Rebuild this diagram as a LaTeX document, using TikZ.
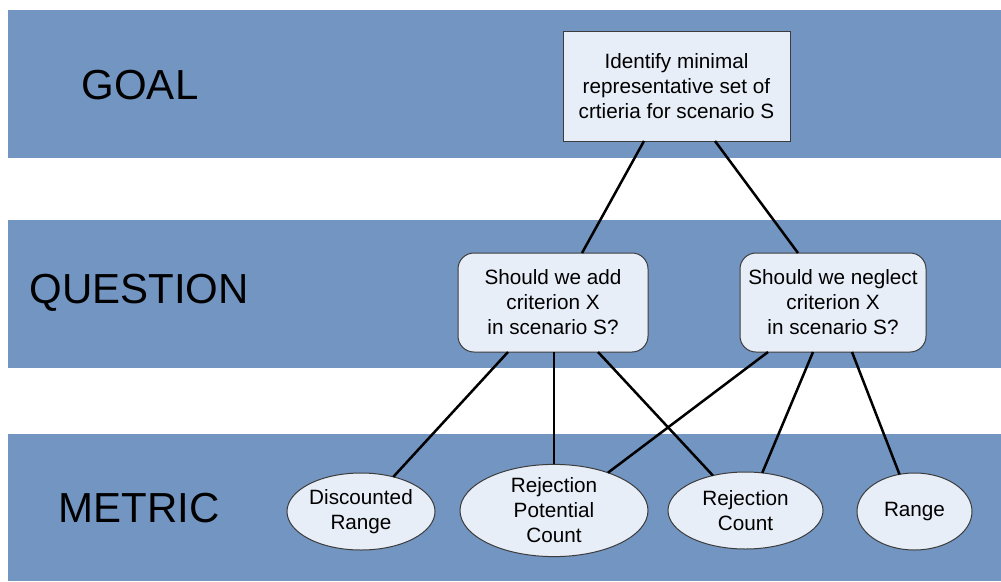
\documentclass[tikz,border=0pt]{standalone}
\usepackage{fontspec}
\setmainfont{Liberation Sans}
\usetikzlibrary{shapes.geometric}
\definecolor{bandblue}{RGB}{114,149,193}
\definecolor{boxfill}{RGB}{232,238,247}
\definecolor{boxline}{RGB}{60,60,60}
\tikzset{
  band/.style={fill=bandblue, draw=none},
  levellabel/.style={font=\fontsize{42}{48}\selectfont, inner sep=0pt},
  goalbox/.style={rectangle, draw=boxline, line width=1pt, fill=boxfill, inner sep=0pt, outer sep=0pt,
    align=center, font=\fontsize{20.7}{25}\selectfont},
  questionbox/.style={goalbox, rounded corners=16pt},
  metricnode/.style={ellipse, draw=boxline, line width=1pt, fill=boxfill, inner sep=0pt, outer sep=0pt,
    align=center, font=\fontsize{20.7}{25}\selectfont},
  link/.style={line width=2.5pt, black}
}
\begin{document}
\begin{tikzpicture}[x=1pt, y=-1pt]
  \useasboundingbox[fill=white] (0,0) rectangle (1001,581);

  % three horizontal level bands
  \fill[band] (8,10) rectangle (1001,158);
  \fill[band] (8,220) rectangle (1001,368);
  \fill[band] (8,434) rectangle (1001,581);

  % level labels
  \node[levellabel] (lgoal) at (140,85) {GOAL};
  \node[levellabel] (lquestion) at (139,293) {QUESTION};
  \node[levellabel] (lmetric) at (139,508) {METRIC};

  % goal
  \node[goalbox, minimum width=227pt, minimum height=110pt] (goal) at (676.5,86)
    {Identify minimal\\representative set of\\crtieria for scenario S};

  % questions
  \node[questionbox, minimum width=190pt, minimum height=99pt] (q1) at (553,302.5)
    {Should we add\\criterion X\\in scenario S?};
  \node[questionbox, minimum width=186pt, minimum height=99pt] (q2) at (833,302.5)
    {Should we neglect\\criterion X\\in scenario S?};

  % metrics
  \node[metricnode, minimum width=148pt, minimum height=77pt] (dr) at (361,511.5)
    {Discounted\\Range};
  \node[metricnode, minimum width=188pt, minimum height=87pt] (rpc) at (554,510.5)
    {Rejection\\Potential\\Count};
  \node[metricnode, minimum width=155pt, minimum height=77pt] (rc) at (745.5,510.5)
    {Rejection\\Count};
  \node[metricnode, minimum width=115pt, minimum height=77pt] (rng) at (914.5,511.5)
    {Range};

  % goal to questions
  \draw[link] ([xshift=-32.5pt]goal.south) -- ([xshift=29pt]q1.north);
  \draw[link] ([xshift=38.5pt]goal.south) -- ([xshift=-35pt]q2.north);

  % questions to metrics
  \draw[link] ([xshift=-45pt]q1.south) -- (dr.47);
  \draw[link] ([xshift=1pt]q1.south) -- (rpc.north);
  \draw[link] ([xshift=45pt]q1.south) -- (rc.133);
  \draw[link] ([xshift=-65pt]q2.south) -- (rpc.35.6);
  \draw[link] ([xshift=-20pt]q2.south) -- (rc.66);
  \draw[link] ([xshift=19pt]q2.south) -- (rng.112);
\end{tikzpicture}
\end{document}
